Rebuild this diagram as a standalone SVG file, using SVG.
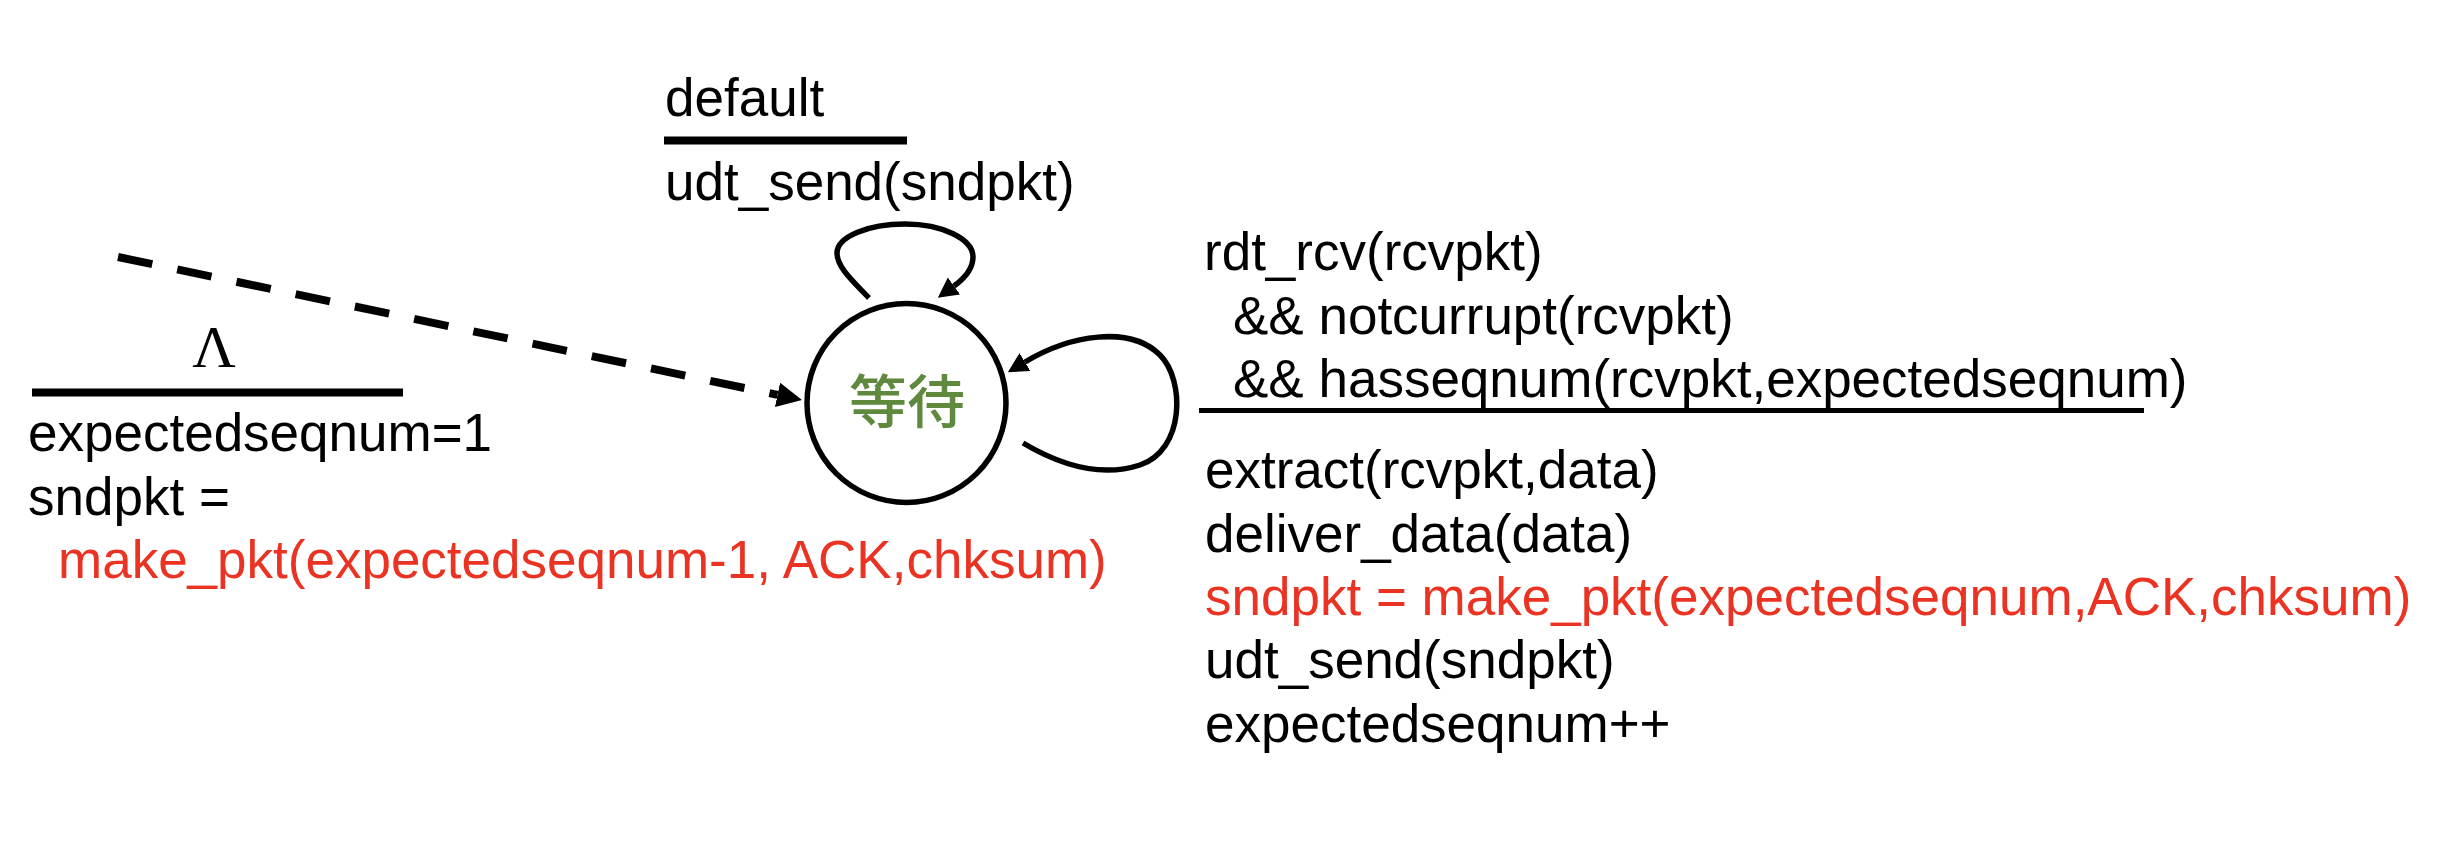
<svg xmlns="http://www.w3.org/2000/svg" width="2462" height="852" viewBox="0 0 2462 852">
<style>
  .t { font-family: "Liberation Sans", Arial, sans-serif; font-size: 53px; fill: #000; }
  .r { fill: #EA3323; }
  .bar { stroke: #000; fill: none; }
  .edge { stroke: #000; fill: none; stroke-width: 5.5; }
</style>
<defs>
  <marker id="ah" markerUnits="userSpaceOnUse" viewBox="0 0 20 21" refX="0" refY="10.5" markerWidth="20" markerHeight="21" orient="auto">
    <path d="M0,0 L20,10.5 L0,21 Z" fill="#000"/>
  </marker>
  <marker id="ahd" markerUnits="userSpaceOnUse" viewBox="0 0 25 25" refX="0" refY="12.5" markerWidth="25" markerHeight="25" orient="auto">
    <path d="M0,0 L25,12.5 L0,25 Z" fill="#000"/>
  </marker>
</defs>
<rect width="2462" height="852" fill="#fff"/>

<g id="connectors">
  <path id="init" d="M118,257 L777.5,394.9" stroke="#000" stroke-width="8" stroke-dasharray="35 25.5" fill="none" marker-end="url(#ahd)"/>
  <path id="self-top" class="edge" d="M869,298 C855,283 837,268 837,253 C837,237 867.5,224 905,224 C942.5,224 973,239 973,257 C973,268 965,278 954,286" marker-end="url(#ah)"/>
  <path id="self-right" class="edge" d="M1023,443 C1060,465 1100,478 1140,465 C1185,450 1185,380 1160,355 C1130,325 1070,335 1025,362" marker-end="url(#ah)"/>
</g>

<g id="state-wait">
  <circle cx="906.5" cy="403" r="99.5" fill="#fff" stroke="#000" stroke-width="5.5"/>
  <text x="907" y="423" text-anchor="middle" style="font-family: 'Noto Sans CJK SC', 'Noto Sans CJK JP', sans-serif; font-size: 58px; font-weight: 500; fill: #5F8A3E;">等待</text>
</g>

<g id="label-init">
  <text x="214" y="367" text-anchor="middle" style="font-family: 'Liberation Serif', 'Times New Roman', serif; font-size: 60px; fill: #000;">Λ</text>
  <line class="bar" x1="32" y1="392.5" x2="403" y2="392.5" stroke-width="8"/>
  <text class="t" x="28" y="451">expectedseqnum=1</text>
  <text class="t" x="28" y="515">sndpkt =</text>
  <text class="t r" x="58" y="578">make_pkt(expectedseqnum-1, ACK,chksum)</text>
</g>

<g id="label-default">
  <text class="t" x="665" y="116">default</text>
  <line class="bar" x1="664" y1="140.5" x2="907" y2="140.5" stroke-width="8"/>
  <text class="t" x="665" y="200">udt_send(sndpkt)</text>
</g>

<g id="label-receive">
  <text class="t" x="1204" y="270">rdt_rcv(rcvpkt)</text>
  <text class="t" x="1233" y="333.5">&amp;&amp; notcurrupt(rcvpkt)</text>
  <text class="t" x="1233" y="397">&amp;&amp; hasseqnum(rcvpkt,expectedseqnum)</text>
  <line class="bar" x1="1199" y1="410.5" x2="2144" y2="410.5" stroke-width="5"/>
  <text class="t" x="1205" y="488">extract(rcvpkt,data)</text>
  <text class="t" x="1205" y="552">deliver_data(data)</text>
  <text class="t r" x="1205" y="615">sndpkt = make_pkt(expectedseqnum,ACK,chksum)</text>
  <text class="t" x="1205" y="678">udt_send(sndpkt)</text>
  <text class="t" x="1205" y="742">expectedseqnum++</text>
</g>
</svg>
